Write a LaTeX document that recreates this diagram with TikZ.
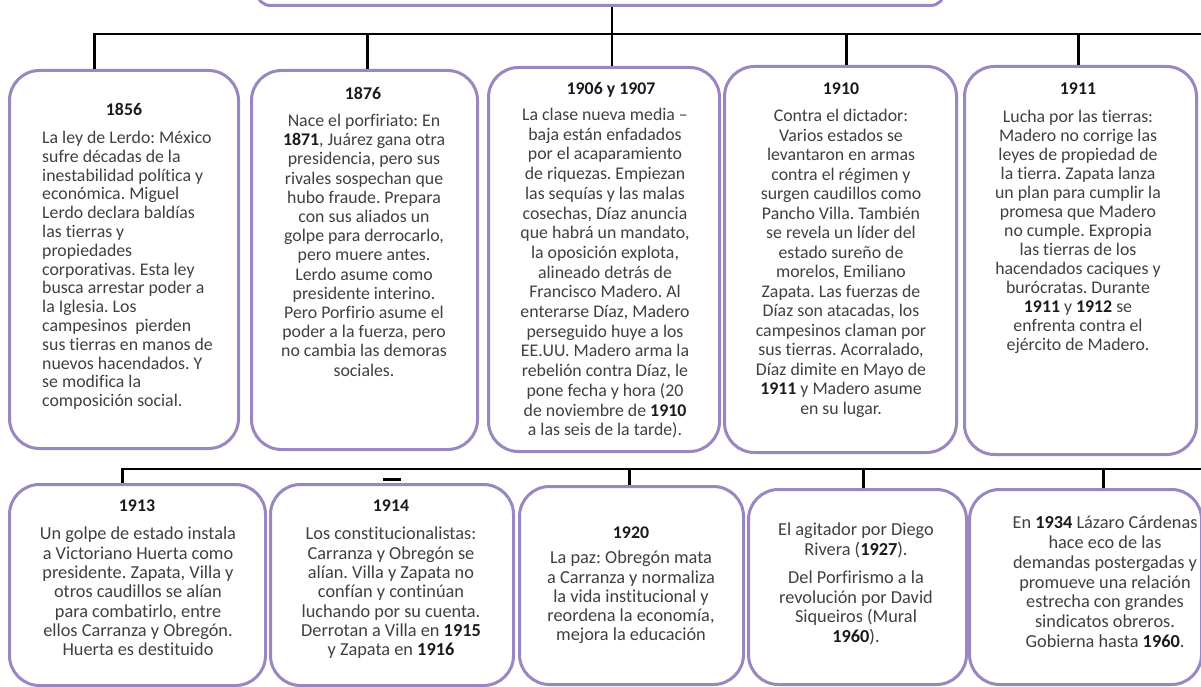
\documentclass[tikz,border=0pt]{standalone}
\usepackage{fontspec}
\setmainfont{Carlito}[Ligatures={TeX,NoCommon}]
\definecolor{boxc}{HTML}{9A86C1}
\definecolor{txtc}{HTML}{404040}
\definecolor{yearc}{HTML}{1A1A1A}
\newcommand{\fs}[1]{\fontsize{17.8}{#1}\selectfont}
\newcommand{\fsb}[1]{\fontsize{18.3}{#1}\selectfont}
\newcommand{\yr}[1]{{\bfseries\color{yearc}#1}}
\frenchspacing
\begin{document}
\frenchspacing
\begin{tikzpicture}[x=1pt,y=-1pt,
  box/.style={draw=boxc, line width=3pt, rounded corners=30pt, fill=white, inner sep=0pt, anchor=north west},
  conn/.style={draw=black, line width=2.4pt},
  year/.style={font=\fs{20}\bfseries, text=yearc, inner sep=0pt},
  body/.style={text=txtc, inner sep=0pt, align=center, anchor=north}]
\useasboundingbox (0,0) rectangle (1201,687);
\clip (0,0) rectangle (1201,687);

% title box (cut off at the top)
\node[box, rounded corners=14pt, minimum width=688pt, minimum height=50pt, anchor=south west] (title) at (255,7) {};

% top row boxes
\node[box, minimum width=229pt, minimum height=378pt] (b1) at (8,69) {};
\node[box, minimum width=226pt, minimum height=379pt] (b2) at (250,69) {};
\node[box, minimum width=231pt, minimum height=384pt] (b3) at (487,66) {};
\node[box, minimum width=232pt, minimum height=386pt] (b4) at (723,65) {};
\node[box, minimum width=232pt, minimum height=388pt] (b5) at (963,65) {};

% bottom row boxes
\node[box, minimum width=256pt, minimum height=201pt] (b6) at (8,483) {};
\node[box, minimum width=243pt, minimum height=201pt] (b7) at (269,483) {};
\node[box, minimum width=224pt, minimum height=198pt] (b8) at (518,485) {};
\node[box, minimum width=218pt, minimum height=195pt] (b9) at (747,488) {};
\node[box, minimum width=232pt, minimum height=195pt] (b10) at (968,488) {};

% top connectors
\coordinate (barR) at (1201,34);
\draw[conn] ([xshift=8pt]b3.north) -- ([xshift=8pt]b3.north |- title.south);
\draw[conn] ([xshift=-29.5pt]b1.north) |- (barR);
\draw[conn] ([xshift=3pt]b2.north) -- ([xshift=3pt]b2.north |- barR);
\draw[conn] ([xshift=6pt]b4.north) -- ([xshift=6pt]b4.north |- barR);
\draw[conn] ([xshift=-2pt]b5.north) -- ([xshift=-2pt]b5.north |- barR);

% bottom connectors
\coordinate (bar2R) at (1201,469);
\draw[conn] ([xshift=-15pt]b6.north) |- (bar2R);
\draw[conn] ([xshift=-2pt]b8.north) -- ([xshift=-2pt]b8.north |- bar2R);
\draw[conn] ([xshift=6pt]b9.north) -- ([xshift=6pt]b9.north |- bar2R);
\draw[conn] ([xshift=18pt]b10.north) -- ([xshift=18pt]b10.north |- bar2R);
\draw[line width=3.5pt] (383,479.5) -- (401,479.5);

% years
\node[year] (y1) at (124,109) {1856};
\node[year] (y2) at (363,93) {1876};
\node[year] (y3) at (611,90) {1906 y 1907};
\node[year] (y4) at (841,89) {1910};
\node[year] (y5) at (1078,89) {1911};
\node[year] (y6) at (137,506) {1913};
\node[year] (y7) at (391,506) {1914};
\node[year] (y8) at (631,533) {1920};

% texts
\node[body, align=left, anchor=north west, font=\fs{18.8}] (t1) at (42,131) {La ley de Lerdo: México\\ sufre décadas de la\\ inestabilidad política y\\ económica. Miguel\\ Lerdo declara baldías\\ las tierras y\\ propiedades\\ corporativas. Esta ley\\ busca arrestar poder a\\ la Iglesia. Los\\ campesinos~ pierden\\ sus tierras en manos de\\ nuevos hacendados. Y\\ se modifica la\\ composición social.};

\node[body, font=\fs{19.2}] (t2) at (364,114) {Nace el porfiriato: En\\ \yr{1871}, Juárez gana otra\\ presidencia, pero sus\\ rivales sospechan que\\ hubo fraude. Prepara\\ con sus aliados un\\ golpe para derrocarlo,\\ pero muere antes.\\ Lerdo asume como\\ presidente interino.\\ Pero Porfirio asume el\\ poder a la fuerza, pero\\ no cambia las demoras\\ sociales.};

\node[body, font=\fs{19.7}] (t3) at (605,108) {La clase nueva media –\\ baja están enfadados\\ por el acaparamiento\\ de riquezas. Empiezan\\ las sequías y las malas\\ cosechas, Díaz anuncia\\ que habrá un mandato,\\ la oposición explota,\\ alineado detrás de\\ Francisco Madero. Al\\ enterarse Díaz, Madero\\ perseguido huye a los\\ EE.UU. Madero arma la\\ rebelión contra Díaz, le\\ pone fecha y hora (20\\ de noviembre de \yr{1910}\\ a las seis de la tarde).};

\node[body, font=\fs{19.5}] (t4) at (841,109) {Contra el dictador:\\ Varios estados se\\ levantaron en armas\\ contra el régimen y\\ surgen caudillos como\\ Pancho Villa. También\\ se revela un líder del\\ estado sureño de\\ morelos, Emiliano\\ Zapata. Las fuerzas de\\ Díaz son atacadas, los\\ campesinos claman por\\ sus tierras. Acorralado,\\ Díaz dimite en Mayo de\\ \yr{1911} y Madero asume\\ en su lugar.};

\node[body, font=\fs{19.0}] (t5) at (1078,110) {Lucha por las tierras:\\ Madero no corrige las\\ leyes de propiedad de\\ la tierra. Zapata lanza\\ un plan para cumplir la\\ promesa que Madero\\ no cumple. Expropia\\ las tierras de los\\ hacendados caciques y\\ burócratas. Durante\\ \yr{1911} y \yr{1912} se\\ enfrenta contra el\\ ejército de Madero.};

\node[body, font=\fsb{19.3}] (t6) at (138,527) {Un golpe de estado instala\\ a Victoriano Huerta como\\ presidente. Zapata, Villa y\\ otros caudillos se alían\\ para combatirlo, entre\\ ellos Carranza y Obregón.\\ Huerta es destituido};

\node[body, font=\fsb{19.3}] (t7) at (391,527) {Los constitucionalistas:\\ Carranza y Obregón se\\ alían. Villa y Zapata no\\ confían y continúan\\ luchando por su cuenta.\\ Derrotan a Villa en \yr{1915}\\ y Zapata en \yr{1916}};

\node[body, font=\fsb{19.2}] (t8) at (631,551) {La paz: Obregón mata\\ a Carranza y normaliza\\ la vida institucional y\\ reordena la economía,\\ mejora la educación};

\node[body, font=\fsb{19.5}] (t9) at (856,523) {El agitador por Diego\\ Rivera (\yr{1927}).\\[9pt] Del Porfirismo a la\\ revolución por David\\ Siqueiros (Mural\\ \yr{1960}).};

\node[body, font=\fsb{19.7}] (t10) at (1105,516) {En \yr{1934} Lázaro Cárdenas\\ hace eco de las\\ demandas postergadas y\\ promueve una relación\\ estrecha con grandes\\ sindicatos obreros.\\ Gobierna hasta \yr{1960}.};
\end{tikzpicture}
\end{document}
